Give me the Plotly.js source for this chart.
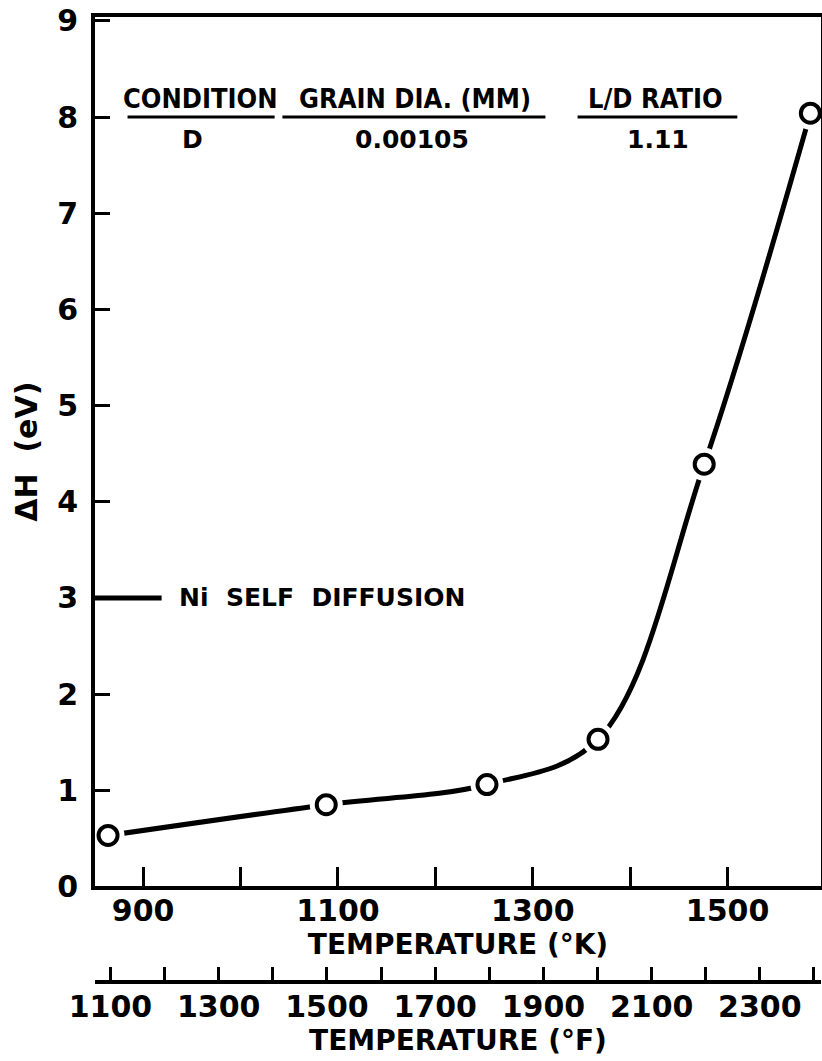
<!DOCTYPE html>
<html>
<head>
<meta charset="utf-8">
<script src="https://cdn.plot.ly/plotly-3.0.1.min.js"></script>
<style>html,body{margin:0;padding:0;background:#fff;}#chart{width:822px;height:1061px;}</style>
</head>
<body>
<div id="chart"></div>
<script>
// ---- data ----
const tempK = [864, 1088, 1253, 1367, 1476, 1585];
const deltaH = [0.53, 0.85, 1.06, 1.53, 4.39, 8.04];

const kTickVals = [900, 1000, 1100, 1200, 1300, 1400, 1500];
const kTickText = ['900', '', '1100', '', '1300', '', '1500'];
const fTickVals = [1100, 1200, 1300, 1400, 1500, 1600, 1700, 1800, 1900, 2000, 2100, 2200, 2300, 2400];
const fTickText = ['1100', '', '1300', '', '1500', '', '1700', '', '1900', '', '2100', '', '2300', ''];
const yTickVals = [0, 1, 2, 3, 4, 5, 6, 7, 8, 9];

const headerLabels = ['CONDITION', 'GRAIN DIA. (MM)', 'L/D RATIO'];
const headerValues = ['D', '0.00105', '1.11'];
const headerCenters = [959, 1179, 1426];
const valueCenters = [951, 1176, 1429];
const underlineStarts = [884, 1043, 1346];
const underlineEnds = [1035, 1313, 1510];

const niSelfDiffusion = 3.0;

const kRange = [850.6, 1595.9];
const toF = k => k * 1.8 - 459.67;
const fRange = kRange.map(toF);

const FONT = 'DejaVu Sans, sans-serif';
const CFONT = 'DejaVu Sans Condensed, DejaVu Sans, sans-serif';

const traces = [
  { // curve
    x: tempK, y: deltaH, type: 'scatter', mode: 'lines',
    line: {color: '#000', width: 5, shape: 'spline', smoothing: 1},
    hoverinfo: 'skip', showlegend: false, xaxis: 'x', yaxis: 'y'
  },
  { // white gaps around markers
    x: tempK, y: deltaH, type: 'scatter', mode: 'markers',
    marker: {symbol: 'circle', size: 33, color: '#fff', line: {width: 0}},
    hoverinfo: 'skip', showlegend: false, cliponaxis: false
  },
  { // open circles
    x: tempK, y: deltaH, type: 'scatter', mode: 'markers',
    marker: {symbol: 'circle', size: 19, color: '#fff', line: {color: '#000', width: 4}},
    showlegend: false, cliponaxis: false
  },
  { // secondary (°F) axis carrier
    x: fRange, y: [null, null], type: 'scatter', mode: 'markers',
    xaxis: 'x2', yaxis: 'y', marker: {opacity: 0}, hoverinfo: 'skip', showlegend: false
  }
];

const annotations = [];
headerLabels.forEach((t, i) => annotations.push({
  x: headerCenters[i], y: 8.19, xref: 'x', yref: 'y', text: t, showarrow: false,
  xanchor: 'center', yanchor: 'middle', font: {family: CFONT, size: 27, color: '#000', weight: 'bold'}
}));
headerValues.forEach((t, i) => annotations.push({
  x: valueCenters[i], y: 7.77, xref: 'x', yref: 'y', text: t, showarrow: false,
  xanchor: 'center', yanchor: 'middle', font: {family: FONT, size: 25, color: '#000', weight: 'bold'}
}));
annotations.push({
  x: 935, y: niSelfDiffusion, xref: 'x', yref: 'y', text: 'Ni  SELF  DIFFUSION', showarrow: false,
  xanchor: 'left', yanchor: 'middle', font: {family: FONT, size: 25, color: '#000', weight: 'bold'}
});

const shapes = [];
underlineStarts.forEach((s, i) => shapes.push({
  type: 'line', xref: 'x', yref: 'y', x0: s, x1: underlineEnds[i], y0: 8.0, y1: 8.0,
  line: {color: '#000', width: 3}
}));
shapes.push({
  type: 'line', xref: 'x', yref: 'y', x0: kRange[0], x1: 919, y0: niSelfDiffusion, y1: niSelfDiffusion,
  line: {color: '#000', width: 5}
});

const axisFont = {family: FONT, size: 30, color: '#000', weight: 'bold'};
const titleFont = {family: FONT, size: 28, color: '#000', weight: 'bold'};

const layout = {
  width: 822, height: 1061,
  margin: {l: 95, r: 1, t: 17, b: 79},
  paper_bgcolor: '#fff', plot_bgcolor: '#fff',
  showlegend: false,
  xaxis: {
    range: kRange, tickmode: 'array', tickvals: kTickVals, ticktext: kTickText,
    ticks: 'inside', ticklen: 19, tickwidth: 3, tickcolor: '#000',
    showline: true, linewidth: 4, linecolor: '#000', mirror: true,
    showgrid: false, zeroline: false, tickfont: axisFont, ticklabelstandoff: -5,
    title: {text: 'TEMPERATURE (°K)', font: titleFont, standoff: 2},
    anchor: 'y'
  },
  xaxis2: {
    range: fRange, overlaying: 'x', anchor: 'free', position: 0, side: 'bottom',
    tickmode: 'array', tickvals: fTickVals, ticktext: fTickText,
    ticks: 'inside', ticklen: 13, tickwidth: 3, tickcolor: '#000',
    showline: true, linewidth: 4, linecolor: '#000',
    showgrid: false, zeroline: false, tickfont: axisFont, ticklabelstandoff: -3,
    title: {text: 'TEMPERATURE (°F)', font: titleFont, standoff: 2}
  },
  yaxis: {
    domain: [0.099, 1], range: [0, 9.04],
    tickmode: 'array', tickvals: yTickVals,
    ticks: 'inside', ticklen: 15, tickwidth: 3, tickcolor: '#000',
    showline: true, linewidth: 4, linecolor: '#000', mirror: true,
    showgrid: false, zeroline: false, tickfont: axisFont, ticklabelstandoff: 7,
    title: {text: 'ΔH  (eV)', font: {family: FONT, size: 30, color: '#000', weight: 'bold'}, standoff: 12}
  },
  annotations: annotations,
  shapes: shapes
};

Plotly.newPlot('chart', traces, layout, {staticPlot: true, displayModeBar: false});
</script>
</body>
</html>
